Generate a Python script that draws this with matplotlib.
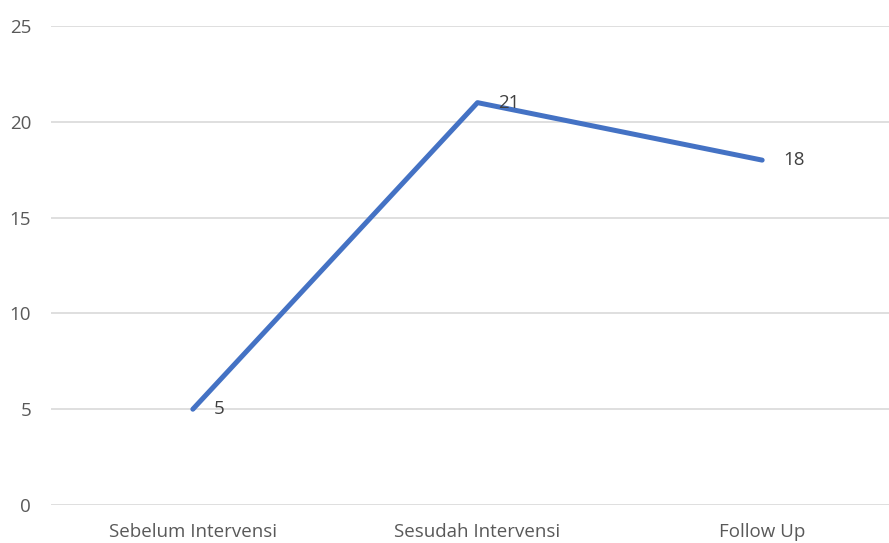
import matplotlib.pyplot as plt

categories = ['Sebelum Intervensi', 'Sesudah Intervensi', 'Follow Up']
values = [5, 21, 18]
y_ticks = [0, 5, 10, 15, 20, 25]

plt.rcParams['font.family'] = ['Open Sans', 'DejaVu Sans']

fig = plt.figure(figsize=(8.89, 5.43), dpi=100)
# plot area runs past the right edge, as in the cropped original
ax = fig.add_axes([50.5 / 889, 38 / 543, 854 / 889, 479 / 543])

x = range(len(categories))
ax.plot(x, values, color='#4472C4', linewidth=3.6, solid_capstyle='round', zorder=3)
for xi, v in zip(x, values):
    ax.annotate(str(v), (xi, v), xytext=(15, 0), textcoords='offset points',
                va='center', ha='left', fontsize=13.5, color='#404040')

ax.set_xlim(-0.5, 2.5)
ax.set_ylim(0, 25)
ax.set_yticks(y_ticks)
ax.set_xticks(list(x))
ax.set_xticklabels(categories)
ax.yaxis.grid(True, color='#D9D9D9', linewidth=1.2)
ax.set_axisbelow(True)
for s in ax.spines.values():
    s.set_visible(False)
ax.tick_params(length=0, labelsize=13.5, labelcolor='#595959')
ax.tick_params(axis='y', pad=14)
ax.tick_params(axis='x', pad=13)

fig.savefig('out.png', dpi=100)
